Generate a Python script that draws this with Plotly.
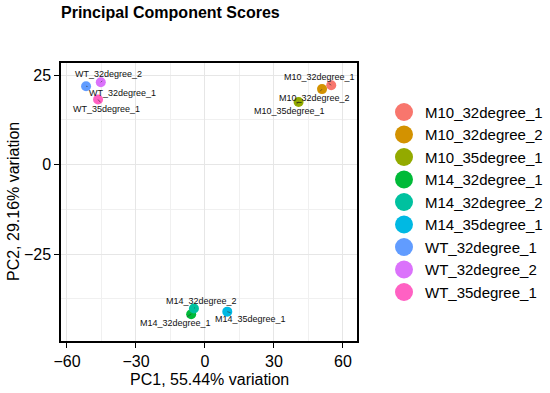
import plotly.graph_objects as go

samples = ["M10_32degree_1", "M10_32degree_2", "M10_35degree_1",
           "M14_32degree_1", "M14_32degree_2", "M14_35degree_1",
           "WT_32degree_1", "WT_32degree_2", "WT_35degree_1"]
pc1 = [54.9, 50.9, 40.7, -6.0, -4.8, 9.7, -51.7, -45.3, -46.5]
pc2 = [22.2, 21.1, 17.5, -41.8, -40.2, -41.1, 21.9, 23.0, 18.2]
colors = ["#F8766D", "#D39200", "#93AA00", "#00BA38", "#00C19F",
          "#00B9E3", "#619CFF", "#DB72FB", "#FF61C3"]
# label offsets (pixels) from each point, as placed by the repel layout
label_dx = [-12, -7.5, -8.7, -15.3, 8, 23.4, 36.5, 8, 8]
label_dy = [-8.3, 8.7, 8.6, 9, -7.3, 7.6, 6.3, -8, 9.4]

x_ticks = [-60, -30, 0, 30, 60]
y_ticks = [-25, 0, 25]

FONT = "Liberation Sans, Arial, Helvetica, sans-serif"

W, H = 550, 393
L, R, T, B = 61, 193, 63, 52
PW, PH = W - L - R, H - T - B


def px_x(px):
    return (px - L) / PW


def px_y(py):
    return (H - B - py) / PH


fig = go.Figure()
for s, x, y, c in zip(samples, pc1, pc2, colors):
    fig.add_trace(go.Scatter(x=[x], y=[y], mode="markers", name=s,
                             marker=dict(color=c, size=10), showlegend=False,
                             hoverinfo="skip"))

for s, x, y, dx, dy in zip(samples, pc1, pc2, label_dx, label_dy):
    fig.add_annotation(x=x, y=y, text=s, showarrow=True, ax=dx, ay=dy,
                       arrowhead=0, arrowwidth=0.6, arrowcolor="#333333",
                       standoff=0, font=dict(size=9, color="#111111", family=FONT))

# legend (drawn as shapes + text so its geometry matches the reference)
leg_x, leg_y0, leg_step = 404, 112, 22.5
for i, (s, c) in enumerate(zip(samples, colors)):
    cy = leg_y0 + i * leg_step
    fig.add_shape(type="circle", xref="paper", yref="paper",
                  xsizemode="pixel", ysizemode="pixel",
                  xanchor=px_x(leg_x), yanchor=px_y(cy),
                  x0=-9, x1=9, y0=-9, y1=9,
                  fillcolor=c, line=dict(width=0), layer="above")
    fig.add_annotation(xref="paper", yref="paper", x=px_x(leg_x + 19), y=px_y(cy),
                       xanchor="left", yanchor="middle", showarrow=False, text=s,
                       font=dict(size=15, color="black", family=FONT))

# axis titles
fig.add_annotation(xref="paper", yref="paper", x=px_x(209), y=px_y(379.5),
                   xanchor="center", yanchor="middle", showarrow=False,
                   text="PC1, 55.44% variation",
                   font=dict(size=16, color="black", family=FONT))
fig.add_annotation(xref="paper", yref="paper", x=px_x(13), y=0.5,
                   xanchor="center", yanchor="middle", showarrow=False, textangle=-90,
                   text="PC2, 29.16% variation",
                   font=dict(size=16, color="black", family=FONT))

axis_common = dict(showline=True, linecolor="black", linewidth=1.5, mirror=True,
                   ticks="outside", ticklen=5, tickwidth=1, tickcolor="black",
                   showgrid=True, gridcolor="#e6e6e6", gridwidth=1.1,
                   zeroline=False, automargin=False,
                   tickfont=dict(size=16, color="black", family=FONT))

fig.update_xaxes(range=[-62.6, 66.1], tickvals=x_ticks,
                 minor=dict(dtick=15, tick0=0, showgrid=True, gridcolor="#f0f0f0", gridwidth=0.7, ticks=""),
                 **axis_common)
fig.update_yaxes(range=[-49.3, 28.4], tickvals=y_ticks,
                 minor=dict(dtick=12.5, tick0=0, showgrid=True, gridcolor="#f0f0f0", gridwidth=0.7, ticks=""),
                 **axis_common)

fig.update_layout(
    width=W, height=H,
    margin=dict(l=L, r=R, t=T, b=B, autoexpand=False),
    paper_bgcolor="white", plot_bgcolor="white",
    title=dict(text="<b>Principal Component Scores</b>", x=L / W, xanchor="left",
               y=1 - 12 / H, yanchor="middle", xref="container", yref="container",
               font=dict(size=16, color="black", family=FONT)),
    showlegend=False,
)

fig.write_html("out.html", config={"displayModeBar": False},
               post_script="document.body.style.margin='0';")
